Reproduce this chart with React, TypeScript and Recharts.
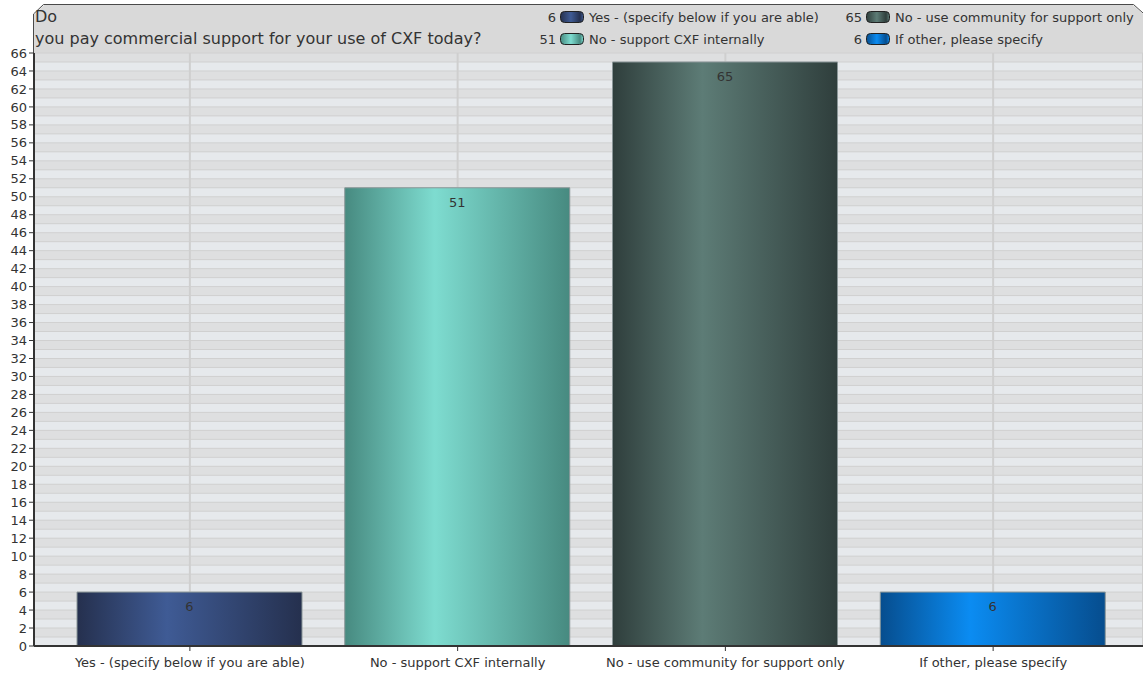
import React from "react";
import {
  BarChart,
  Bar,
  XAxis,
  YAxis,
  CartesianGrid,
  LabelList,
  Cell,
} from "recharts";

const categories = [
  "Yes - (specify below if you are able)",
  "No - support CXF internally",
  "No - use community for support only",
  "If other, please specify",
];
const counts = [6, 51, 65, 6];
const yTicks = Array.from({ length: 34 }, (_, i) => i * 2);
const bandLines = Array.from({ length: 67 }, (_, i) => i);

// [edge, center] per bar
const barColors: [string, string][] = [
  ["#25304e", "#3f5b95"],
  ["#478a80", "#7edcd0"],
  ["#2f3e3c", "#5d7c76"],
  ["#064d8e", "#0b8cf2"],
];

const data = categories.map((name, i) => ({ name, value: counts[i] }));
const FONT = "'DejaVu Sans', Verdana, sans-serif";

function LegendIcon({ idx }: { idx: number }) {
  const [edge, center] = barColors[idx];
  return (
    <svg width={24} height={12} style={{ margin: "0 5px 0 4px" }}>
      <defs>
        <linearGradient id={`lg${idx}`} x1="0" x2="1" y1="0" y2="0">
          <stop offset="0%" stopColor={edge} />
          <stop offset="45%" stopColor={center} />
          <stop offset="85%" stopColor={edge} />
          <stop offset="100%" stopColor={center} />
        </linearGradient>
      </defs>
      <rect x={0.5} y={0.5} width={23} height={11} rx={4} fill={`url(#lg${idx})`} stroke="#222" />
    </svg>
  );
}

function LegendCell({ idx }: { idx: number }) {
  return (
    <div style={{ display: "flex", alignItems: "center", height: 22, whiteSpace: "nowrap" }}>
      <span style={{ width: 26, textAlign: "right" }}>{counts[idx]}</span>
      <LegendIcon idx={idx} />
      <span>{categories[idx]}</span>
    </div>
  );
}

export default function App() {
  return (
    <div style={{ position: "absolute", left: 0, top: 0, width: 1143, height: 673, fontFamily: FONT, background: "#fff" }}>
      <svg width={1143} height={56} style={{ position: "absolute", left: 0, top: 0 }}>
        <path d="M34,54 L34,14.5 L44,5 L1133,5 L1143,14 L1143,54 Z" fill="#d9d9d9" />
        <path d="M33.5,54 L33.5,14 L43.5,4.5 L1133.5,4.5 L1143,13" fill="none" stroke="#4a4a4a" />
        <text x={35} y={22} fontSize={16} fill="#333" fontFamily={FONT}>Do</text>
        <text x={35} y={44} fontSize={16} fill="#333" fontFamily={FONT}>you pay commercial support for your use of CXF today?</text>
      </svg>
      <div style={{ position: "absolute", left: 530, top: 6, fontSize: 13, color: "#333", display: "flex" }}>
        <div>
          <LegendCell idx={0} />
          <LegendCell idx={1} />
        </div>
        <div style={{ marginLeft: 17 }}>
          <LegendCell idx={2} />
          <LegendCell idx={3} />
        </div>
      </div>
      <div style={{ position: "absolute", left: 0, top: 0 }}>
        <BarChart width={1143} height={673} data={data} margin={{ top: 53, right: 0, bottom: 0, left: 0 }}>
          <defs>
            {barColors.map(([edge, center], i) => (
              <linearGradient key={i} id={`bg${i}`} x1="0" x2="1" y1="0" y2="0">
                <stop offset="0%" stopColor={edge} />
                <stop offset="40%" stopColor={center} />
                <stop offset="100%" stopColor={edge} />
              </linearGradient>
            ))}
          </defs>
          <CartesianGrid
            vertical={false}
            horizontalValues={bandLines}
            horizontalFill={["#dedfe0", "#e6e9ec"]}
            stroke="#d0d0d0"
            fillOpacity={1}
          />
          <CartesianGrid horizontal={false} stroke="#cfcfcf" strokeWidth={2} fill="none" />
          <XAxis
            dataKey="name"
            height={27}
            padding={{ left: 22, right: 16 }}
            tickSize={5}
            tickMargin={7}
            tick={{ fontSize: 13, fill: "#333", fontFamily: FONT }}
            axisLine={{ stroke: "#333", strokeWidth: 2 }}
            tickLine={{ stroke: "#333" }}
          />
          <YAxis
            width={34}
            domain={[0, 66]}
            ticks={yTicks}
            interval={0}
            tickSize={5}
            tick={{ fontSize: 13, fill: "#333", fontFamily: FONT }}
            axisLine={{ stroke: "#333", strokeWidth: 2 }}
            tickLine={{ stroke: "#333" }}
          />
          <Bar dataKey="value" barSize={225} isAnimationActive={false} stroke="#8a9698" strokeWidth={1}>
            {data.map((_, i) => (
              <Cell key={i} fill={`url(#bg${i})`} />
            ))}
            <LabelList dataKey="value" position="insideTop" offset={10} fill="#333" fontSize={13} fontFamily={FONT} />
          </Bar>
        </BarChart>
      </div>
    </div>
  );
}
